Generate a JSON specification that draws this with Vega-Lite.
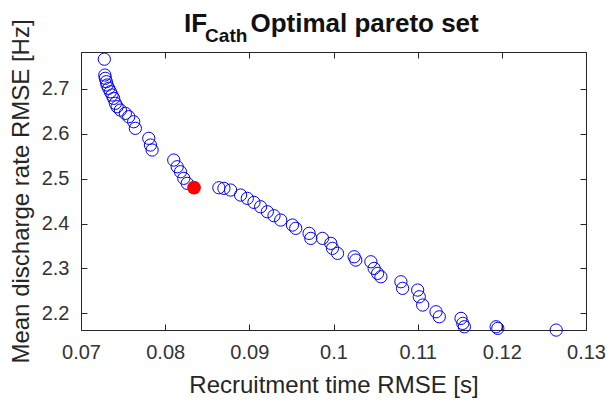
{
  "$schema": "https://vega.github.io/schema/vega-lite/v6.json",
  "width": 505,
  "height": 278,
  "autosize": {"type": "none"},
  "padding": {"left": 81, "top": 52, "right": 24, "bottom": 70},
  "background": "white",
  "config": {
    "font": "Liberation Sans",
    "view": {"stroke": "#262626", "strokeWidth": 1},
    "axis": {
      "grid": false,
      "domain": false,
      "tickColor": "#262626",
      "tickSize": -6,
      "labelFlush": false,
      "labelOverlap": false,
      "labelColor": "#333333",
      "labelFontSize": 20,
      "labelFont": "Liberation Sans",
      "titleColor": "#262626",
      "titleFontSize": 24,
      "titleFont": "Liberation Sans",
      "titleFontWeight": "normal"
    }
  },
  "title": {
    "text": "IF\u00a0\u00a0\u00a0\u00a0\u00a0\u00a0Optimal pareto set",
    "subtitle": "\u200d\u00a0\u00a0\u00a0\u00a0Cath",
    "anchor": "start",
    "frame": "group",
    "dx": 103,
    "font": "Liberation Sans",
    "fontSize": 26,
    "fontWeight": "bold",
    "color": "#111111",
    "subtitleFont": "Liberation Sans",
    "subtitleFontSize": 19,
    "subtitleFontWeight": "bold",
    "subtitleColor": "#111111",
    "subtitlePadding": -10,
    "offset": -27
  },
  "data": {
    "values": [
      {"rt": 0.07277, "dr": 2.766, "kind": "pareto"},
      {"rt": 0.07283, "dr": 2.7307, "kind": "pareto"},
      {"rt": 0.07289, "dr": 2.7234, "kind": "pareto"},
      {"rt": 0.07301, "dr": 2.7158, "kind": "pareto"},
      {"rt": 0.07310, "dr": 2.7085, "kind": "pareto"},
      {"rt": 0.07329, "dr": 2.7011, "kind": "pareto"},
      {"rt": 0.07349, "dr": 2.6935, "kind": "pareto"},
      {"rt": 0.07369, "dr": 2.6862, "kind": "pareto"},
      {"rt": 0.07388, "dr": 2.6788, "kind": "pareto"},
      {"rt": 0.07408, "dr": 2.6677, "kind": "pareto"},
      {"rt": 0.07429, "dr": 2.6601, "kind": "pareto"},
      {"rt": 0.07468, "dr": 2.6527, "kind": "pareto"},
      {"rt": 0.07527, "dr": 2.6454, "kind": "pareto"},
      {"rt": 0.07567, "dr": 2.6379, "kind": "pareto"},
      {"rt": 0.07626, "dr": 2.6267, "kind": "pareto"},
      {"rt": 0.07646, "dr": 2.6120, "kind": "pareto"},
      {"rt": 0.07805, "dr": 2.5898, "kind": "pareto"},
      {"rt": 0.07825, "dr": 2.5748, "kind": "pareto"},
      {"rt": 0.07845, "dr": 2.5637, "kind": "pareto"},
      {"rt": 0.08102, "dr": 2.5414, "kind": "pareto"},
      {"rt": 0.08143, "dr": 2.5265, "kind": "pareto"},
      {"rt": 0.08182, "dr": 2.5154, "kind": "pareto"},
      {"rt": 0.08221, "dr": 2.5007, "kind": "pareto"},
      {"rt": 0.08262, "dr": 2.4895, "kind": "pareto"},
      {"rt": 0.08638, "dr": 2.4797, "kind": "pareto"},
      {"rt": 0.08698, "dr": 2.4784, "kind": "pareto"},
      {"rt": 0.08777, "dr": 2.4746, "kind": "pareto"},
      {"rt": 0.08896, "dr": 2.4635, "kind": "pareto"},
      {"rt": 0.08976, "dr": 2.4561, "kind": "pareto"},
      {"rt": 0.09055, "dr": 2.4472, "kind": "pareto"},
      {"rt": 0.09134, "dr": 2.4374, "kind": "pareto"},
      {"rt": 0.09214, "dr": 2.4263, "kind": "pareto"},
      {"rt": 0.09293, "dr": 2.4174, "kind": "pareto"},
      {"rt": 0.09373, "dr": 2.4078, "kind": "pareto"},
      {"rt": 0.09512, "dr": 2.3967, "kind": "pareto"},
      {"rt": 0.09551, "dr": 2.3893, "kind": "pareto"},
      {"rt": 0.09710, "dr": 2.3782, "kind": "pareto"},
      {"rt": 0.09730, "dr": 2.3670, "kind": "pareto"},
      {"rt": 0.09869, "dr": 2.3670, "kind": "pareto"},
      {"rt": 0.09968, "dr": 2.3559, "kind": "pareto"},
      {"rt": 0.09988, "dr": 2.3448, "kind": "pareto"},
      {"rt": 0.10048, "dr": 2.3336, "kind": "pareto"},
      {"rt": 0.10245, "dr": 2.3261, "kind": "pareto"},
      {"rt": 0.10265, "dr": 2.3187, "kind": "pareto"},
      {"rt": 0.10444, "dr": 2.3149, "kind": "pareto"},
      {"rt": 0.10483, "dr": 2.3002, "kind": "pareto"},
      {"rt": 0.10524, "dr": 2.2891, "kind": "pareto"},
      {"rt": 0.10563, "dr": 2.2815, "kind": "pareto"},
      {"rt": 0.10801, "dr": 2.2704, "kind": "pareto"},
      {"rt": 0.10821, "dr": 2.2557, "kind": "pareto"},
      {"rt": 0.11000, "dr": 2.2519, "kind": "pareto"},
      {"rt": 0.11019, "dr": 2.2370, "kind": "pareto"},
      {"rt": 0.11060, "dr": 2.2185, "kind": "pareto"},
      {"rt": 0.11218, "dr": 2.2036, "kind": "pareto"},
      {"rt": 0.11257, "dr": 2.1924, "kind": "pareto"},
      {"rt": 0.11515, "dr": 2.1889, "kind": "pareto"},
      {"rt": 0.11536, "dr": 2.1777, "kind": "pareto"},
      {"rt": 0.11555, "dr": 2.1702, "kind": "pareto"},
      {"rt": 0.11932, "dr": 2.1702, "kind": "pareto"},
      {"rt": 0.11952, "dr": 2.1666, "kind": "pareto"},
      {"rt": 0.12646, "dr": 2.1628, "kind": "pareto"},
      {"rt": 0.08343, "dr": 2.4802, "kind": "selected"}
    ]
  },
  "layer": [
    {
      "transform": [{"filter": "datum.kind === 'pareto'"}],
      "mark": {"type": "point", "shape": "circle", "filled": false, "stroke": "#0000ff", "strokeWidth": 1, "size": 150, "opacity": 1, "clip": false},
      "encoding": {
        "x": {
          "field": "rt", "type": "quantitative",
          "scale": {"domain": [0.07, 0.13], "nice": false, "zero": false},
          "axis": {"orient": "bottom", "values": [0.07, 0.08, 0.09, 0.1, 0.11, 0.12, 0.13], "format": ".2~f", "labelPadding": 18, "title": "Recruitment time RMSE [s]", "titlePadding": 11}
        },
        "y": {
          "field": "dr", "type": "quantitative",
          "scale": {"domain": [2.163, 2.782], "nice": false, "zero": false},
          "axis": {"orient": "left", "values": [2.2, 2.3, 2.4, 2.5, 2.6, 2.7], "format": ".1f", "labelPadding": 18, "title": "Mean discharge rate RMSE [Hz]", "titlePadding": 8}
        }
      }
    },
    {
      "transform": [{"filter": "datum.kind === 'selected'"}],
      "mark": {"type": "circle", "color": "#ff0000", "size": 190, "opacity": 1, "clip": false},
      "encoding": {
        "x": {
          "field": "rt", "type": "quantitative",
          "scale": {"domain": [0.07, 0.13], "nice": false, "zero": false},
          "axis": {"orient": "top", "values": [0.07, 0.08, 0.09, 0.1, 0.11, 0.12, 0.13], "labels": false, "title": null}
        },
        "y": {
          "field": "dr", "type": "quantitative",
          "scale": {"domain": [2.163, 2.782], "nice": false, "zero": false},
          "axis": {"orient": "right", "values": [2.2, 2.3, 2.4, 2.5, 2.6, 2.7], "labels": false, "title": null}
        }
      }
    }
  ],
  "resolve": {"axis": {"x": "independent", "y": "independent"}}
}
